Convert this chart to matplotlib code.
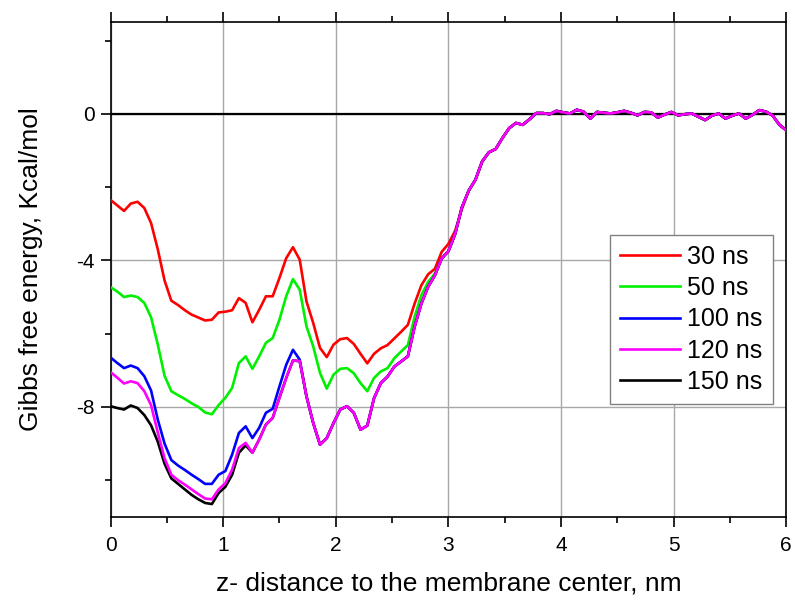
import numpy as np
import matplotlib
matplotlib.use('Agg')
import matplotlib.pyplot as plt
from matplotlib.ticker import MultipleLocator

plt.rcParams['font.family'] = ['Liberation Sans', 'DejaVu Sans']
plt.rcParams['axes.unicode_minus'] = False

# distance from membrane center, nm
z = np.linspace(0, 6, 101)

# free energy profiles (kcal/mol); the longer runs collapse onto the 120 ns curve
ns120 = [-7.05, -7.20, -7.36, -7.30, -7.35, -7.57, -7.95, -8.70, -9.40, -9.85,
         -10.00, -10.12, -10.25, -10.38, -10.50, -10.52, -10.25, -10.08, -9.71, -9.12,
         -8.98, -9.25, -8.89, -8.48, -8.30, -7.75, -7.21, -6.73, -6.75, -7.71,
         -8.44, -9.03, -8.85, -8.44, -8.07, -7.98, -8.16, -8.62, -8.51, -7.76,
         -7.35, -7.17, -6.90, -6.76, -6.62, -5.81, -5.18, -4.72, -4.41, -3.95,
         -3.75, -3.28, -2.55, -2.10, -1.80, -1.30, -1.05, -0.96, -0.66, -0.39,
         -0.25, -0.30, -0.15, 0.02, 0.02, -0.01, 0.08, 0.04, 0.01, 0.11,
         0.06, -0.13, 0.05, 0.03, 0.01, 0.04, 0.08, 0.03, -0.04, 0.05,
         0.04, -0.10, -0.02, 0.05, -0.04, -0.01, 0.01, -0.08, -0.17, -0.05,
         0.01, -0.13, -0.05, 0.01, -0.13, -0.03, 0.10, 0.06, -0.05, -0.30,
         -0.45]

ns30_head = [-2.35, -2.50, -2.65, -2.45, -2.40, -2.57, -2.98, -3.70, -4.55, -5.10,
             -5.22, -5.36, -5.48, -5.56, -5.64, -5.62, -5.42, -5.40, -5.36, -5.03,
             -5.16, -5.69, -5.35, -4.98, -4.98, -4.48, -3.94, -3.64, -3.98, -5.12,
             -5.71, -6.39, -6.64, -6.30, -6.15, -6.12, -6.28, -6.55, -6.81, -6.55,
             -6.40, -6.31, -6.13, -5.95, -5.76, -5.18, -4.68, -4.38, -4.23, -3.77,
             -3.55, -3.19, -2.60]

ns50_head = [-4.73, -4.85, -5.00, -4.96, -5.00, -5.16, -5.55, -6.30, -7.15, -7.57,
             -7.68, -7.78, -7.90, -8.00, -8.15, -8.20, -7.95, -7.75, -7.48, -6.80,
             -6.62, -6.96, -6.62, -6.25, -6.12, -5.62, -4.98, -4.51, -4.80, -5.80,
             -6.35, -7.07, -7.50, -7.12, -6.96, -6.94, -7.08, -7.35, -7.57, -7.21,
             -7.03, -6.94, -6.67, -6.49, -6.31, -5.54, -4.95, -4.59, -4.36]

ns100_head = [-6.65, -6.80, -6.94, -6.87, -6.94, -7.16, -7.55, -8.35, -9.00, -9.45,
              -9.60, -9.72, -9.85, -9.97, -10.10, -10.10, -9.85, -9.75, -9.30, -8.71,
              -8.53, -8.85, -8.57, -8.16, -8.05, -7.44, -6.85, -6.44, -6.71]

ns150_head = [-7.98, -8.03, -8.07, -7.96, -8.03, -8.22, -8.50, -8.95, -9.55, -9.95,
              -10.10, -10.25, -10.40, -10.52, -10.62, -10.65, -10.35, -10.18, -9.85, -9.25,
              -9.05]

ns30 = ns30_head + ns120[len(ns30_head):]
ns50 = ns50_head + ns120[len(ns50_head):]
ns100 = ns100_head + ns120[len(ns100_head):]
ns150 = ns150_head + ns120[len(ns150_head):]

labels = ['30 ns', '50 ns', '100 ns', '120 ns', '150 ns']
colors = ['#ff0000', '#00f000', '#0000ff', '#ff00ff', '#000000']
zorders = [3, 4, 5, 7, 6]

fig = plt.figure(figsize=(7.95, 6.01), dpi=100)
ax = fig.add_axes([0.139, 0.140, 0.850, 0.823])

for y, lab, c, zo in zip([ns30, ns50, ns100, ns120, ns150], labels, colors, zorders):
    ax.plot(z, y, color=c, lw=1.9, label=lab, zorder=zo)

ax.axhline(0, color='black', lw=1.6, zorder=2)

ax.set_xlim(0, 6)
ax.set_ylim(-11, 2.5)
ax.xaxis.set_major_locator(MultipleLocator(1))
ax.xaxis.set_minor_locator(MultipleLocator(0.5))
ax.yaxis.set_major_locator(MultipleLocator(4))
ax.yaxis.set_minor_locator(MultipleLocator(2))
ax.grid(True, which='major', color='#a8a8a8', lw=1.0, zorder=1)
ax.set_axisbelow(True)

for s in ax.spines.values():
    s.set_linewidth(1.2)
ax.tick_params(which='both', direction='out', top=True, right=False,
               width=1.2, labelsize=15)
ax.tick_params(axis='x', which='major', length=7.5, pad=6)
ax.tick_params(axis='y', which='major', length=7.5, pad=4)
ax.tick_params(which='minor', length=4.5)

ax.set_xlabel('z- distance to the membrane center, nm', fontsize=19, labelpad=12)
ax.set_ylabel('Gibbs free energy, Kcal/mol', fontsize=19, labelpad=24)

leg = ax.legend(loc='upper right', bbox_to_anchor=(0.98, 0.57), borderaxespad=0,
                fontsize=18, handlelength=2.4, labelspacing=0.29, fancybox=False,
                framealpha=1, edgecolor='#808080', borderpad=0.4, handletextpad=0.3)
leg.get_frame().set_linewidth(1.0)

plt.savefig('out.png', dpi=100)
